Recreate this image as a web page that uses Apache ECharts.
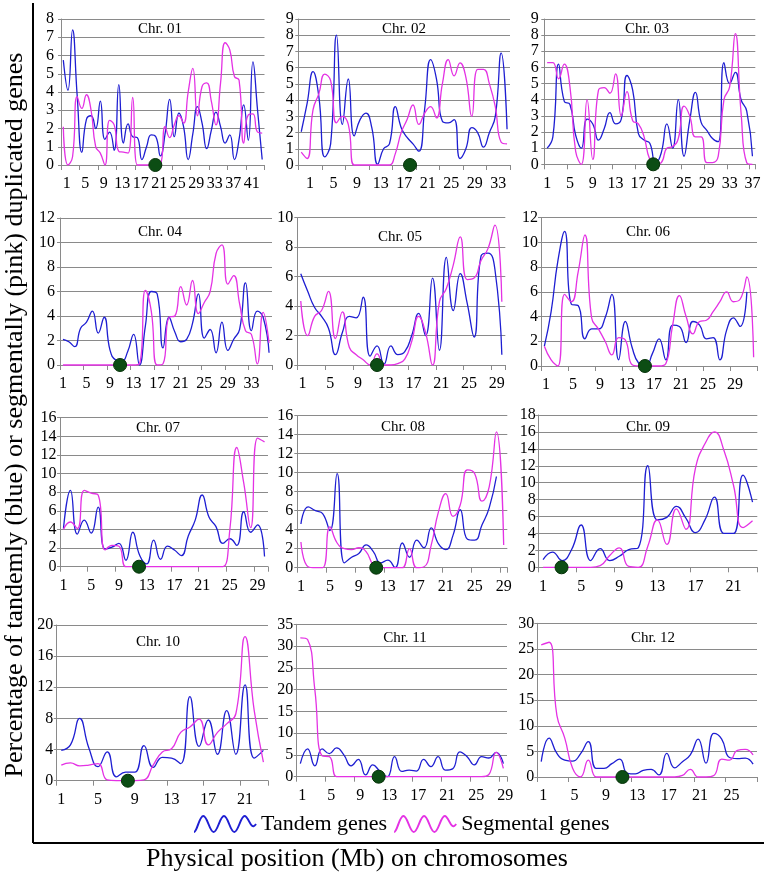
<!DOCTYPE html>
<html>
<head>
<meta charset="utf-8">
<script src="https://cdn.jsdelivr.net/npm/echarts@6.0.0/dist/echarts.min.js"></script>
<style>
html,body{margin:0;padding:0;background:#ffffff;}
#chart{width:768px;height:875px;}
</style>
</head>
<body>
<div id="chart"></div>
<script>
// ---------------- DATA ----------------
const chromosomes = ['Chr. 01','Chr. 02','Chr. 03','Chr. 04','Chr. 05','Chr. 06',
                     'Chr. 07','Chr. 08','Chr. 09','Chr. 10','Chr. 11','Chr. 12'];

const chr01Tandem = [5.75,4.1,7.4,3.8,0.7,2.5,2.7,2.0,3.5,1.4,1.8,0.8,4.4,1.2,2.25,1.55,1.5,0.3,1.0,1.65,1.55,0.5,1.7,3.6,1.55,2.85,2.1,0.3,1.7,3.2,2.3,0.9,1.9,2.9,2.1,1.2,1.65,0.3,1.4,3.3,1.35,5.65,3.0,0.3];
const chr01Segmental = [2.1,0,0.45,3.75,3.1,3.85,3.0,1.0,0.65,0,2.45,2.2,0.75,0.7,0.65,3.7,0,0,0,0,0,0.05,2.1,1.5,2.2,2.7,2.3,4.0,5.3,2.7,4.3,4.5,3.5,2.2,4.5,6.7,6.3,4.85,4.65,1.2,2.75,2.8,1.8,1.75];

const chr02Tandem = [2.05,3.8,5.75,4.2,0.5,1.3,8.0,2.5,5.3,1.8,2.8,3.2,2.3,0.05,1.0,1.3,3.6,2.3,1.7,1.3,0.85,3.5,6.5,5.3,2.7,2.6,2.8,0.4,1.0,2.3,2.0,1.1,2.0,3.0,6.9,2.2];
const chr02Segmental = [0.8,0.4,3.4,4.4,5.6,5.2,2.6,3.0,2.5,0,0,0,0,0,0,0,0.7,2.0,2.8,3.7,2.5,3.2,3.6,2.9,5.0,6.5,5.5,6.3,5.4,3.0,5.9,5.9,5.0,3.6,1.4,1.3];

const chr03Tandem = [1.0,1.7,6.2,3.9,3.7,1.8,1.0,2.8,2.5,1.5,2.2,3.2,2.5,2.8,5.5,4.6,1.9,1.5,1.3,0.05,0.7,2.5,1.0,4.0,0.5,2.7,4.45,2.6,2.1,1.6,1.4,6.3,5.0,5.7,4.0,3.3,0.5];
const chr03Segmental = [6.3,6.3,5.3,6.2,4.8,0.8,0,4.0,0.3,4.6,4.75,4.4,5.6,3.0,4.5,2.7,2.5,1.7,0.3,0,0.1,1.0,1.1,1.6,3.6,3.0,1.7,1.7,0.1,0.1,0.5,4.0,4.8,8.1,3.2,0.1,0];

const chr04Tandem = [2.1,1.9,1.5,3.0,3.5,4.4,2.6,3.9,1.2,0.4,0.3,1.1,2.5,0,3.2,6.0,5.8,1.4,3.9,2.7,1.9,2.1,3.4,5.8,2.2,2.9,1.0,3.5,1.2,2.1,2.9,6.7,2.8,4.4,3.9,1.0];
const chr04Segmental = [0,0,0,0,0,0,0,0,0,0,0,0,0,0.1,6.1,4.4,0,0.1,3.9,4.0,6.4,4.9,6.9,4.2,5.1,6.0,9.1,9.8,6.6,7.3,5.0,2.8,2.5,0.1,4.3,1.8];

const chr05Tandem = [6.2,5.0,3.9,3.3,2.5,0.7,2.2,3.3,3.2,4.6,0.6,1.3,0.05,1.3,0.7,0.9,2.0,3.5,2.0,5.9,1.0,7.3,3.7,6.2,4.2,1.9,7.4,7.6,6.5,0.7];
const chr05Segmental = [4.35,2.0,3.3,3.7,5.0,1.8,3.6,1.2,0.7,0.35,0,0.75,0,0,0.1,0.4,1.6,3.3,2.2,0,4.3,5.2,6.8,8.7,5.8,5.9,7.1,7.9,9.5,4.3];

const chr06Tandem = [1.6,4.4,8.5,10.9,5.0,4.9,2.2,3.0,3.0,3.9,5.8,0.5,3.6,1.5,0.2,0,1.0,2.2,0.5,3.3,3.2,1.9,3.6,3.3,2.2,2.3,0.5,2.9,3.9,3.2,6.0,null];
const chr06Segmental = [1.6,0.5,0,5.8,5.2,7.6,10.6,3.9,3.0,2.0,0.9,2.3,2.1,0.1,0,0,0,0,0.2,3.3,5.7,4.0,2.6,3.6,3.7,4.4,5.2,6.0,5.2,5.4,7.2,0.7];

const chr07Tandem = [4.1,8.2,3.5,5.0,3.6,6.4,1.9,2.1,2.5,0.7,3.7,1.2,0.3,2.85,0.8,2.2,1.8,1.2,3.3,5.0,7.7,5.3,4.3,2.5,3.0,2.3,5.9,3.7,4.5,1.1];
const chr07Segmental = [4.0,4.8,4.1,8.2,7.9,7.7,1.8,2.3,2.2,0,0,0,0,0,0,0,0,0,0,0,0,0,0,0,4.0,12.8,9.0,4.2,13.8,13.4];

const chr08Tandem = [4.6,6.4,6.0,5.7,3.9,9.9,0.5,1.1,1.5,2.4,1.7,0.5,0.8,0,2.6,1.1,2.9,2.1,4.2,2.5,1.9,3.4,6.1,3.0,2.9,4.5,6.3,9.6,null];
const chr08Segmental = [2.7,0.1,0,0,4.3,2.6,2.0,1.9,2.1,1.7,0.3,0,0,0,0,2.0,0,0.1,2.4,5.9,7.8,5.4,6.6,10.3,9.9,7.0,8.5,14.3,2.4];

const chr09Tandem = [0.9,1.8,0.8,2.1,5.0,0.8,2.2,0.8,1.3,2.1,2.3,12.0,5.6,5.9,7.2,5.8,4.1,5.6,8.3,4.0,4.0,10.9,7.7];
const chr09Segmental = [0,0,0,0,0,0,0.2,1.4,2.3,0.1,0,2.5,5.6,2.7,6.9,4.5,11.7,14.6,16.0,13.8,9.7,4.7,5.5];

const chr10Tandem = [3.9,4.6,8.0,4.2,1.8,3.7,0.5,1.1,1.1,4.5,1.7,3.0,2.9,2.2,10.8,4.4,7.8,3.4,9.0,3.4,12.3,2.9,3.9];
const chr10Segmental = [2.0,2.3,1.9,2.0,2.2,0.1,0,0,0,0.1,2.0,3.7,4.1,6.2,6.9,7.9,4.6,6.2,7.3,8.6,18.5,9.0,2.4];

const chr11Tandem = [3.0,6.4,2.5,6.4,5.3,6.6,5.0,2.5,4.0,0.4,2.7,1.2,0,4.6,1.2,1.5,1.3,4.0,2.3,4.6,1.5,1.8,5.7,4.6,2.7,4.6,4.3,5.6,3.0];
const chr11Segmental = [31.9,31.5,20.0,4.8,4.6,0,0,0,0,0,0,0,0,0,0,0,0,0,0,0,0,0,0,0,0,0,0.5,5.6,1.9];

const chr12Tandem = [3.0,7.6,4.6,3.3,3.1,4.5,6.9,1.7,1.7,2.6,3.5,0.7,0.6,1.3,1.5,0.4,4.6,1.8,3.0,4.3,7.4,2.7,8.5,7.4,3.8,3.6,3.7,2.5];
const chr12Segmental = [25.8,26.3,12.0,7.6,1.7,0,3.3,0,0,0,0,0,0,0,0,0,0,0,0.3,1.5,0,0,0.3,3.5,3.3,5.2,5.4,4.3];

// centromere positions (Mb, measured along the axis)
const centromeres = [20.4,19.0,19.1,10.2,11.5,15.4,11.4,10.9,2.44,7.75,11.3,10.85];
// y axis ranges and steps
const yMax  = [8,9,9,12,10,12,16,16,18,20,35,30];
const yStep = [1,1,1,2,2,2,2,2,2,4,5,5];
const xTickStep = 4;   // a tick label every 4 Mb: 1, 5, 9, ...

const tandem = [chr01Tandem,chr02Tandem,chr03Tandem,chr04Tandem,chr05Tandem,chr06Tandem,
                chr07Tandem,chr08Tandem,chr09Tandem,chr10Tandem,chr11Tandem,chr12Tandem];
const segmental = [chr01Segmental,chr02Segmental,chr03Segmental,chr04Segmental,chr05Segmental,chr06Segmental,
                   chr07Segmental,chr08Segmental,chr09Segmental,chr10Segmental,chr11Segmental,chr12Segmental];

// ---------------- LAYOUT / STYLE ----------------
const BLUE = '#1e1ed2';
const PINK = '#e432e4';
const GREEN = '#0c4d14';
const GRAY = '#8a8a8a';
const FONT = 'Liberation Serif';

// l,t,w,h = plot area; off = label offset (in bins); ym = y label margin; tx,ty = title centre
const layout = [
  {l:61,    t:19,    w:203.5, h:146,   off:1.25, ym:7,   tx:160, ty:29},
  {l:298.3, t:19,    w:211.7, h:146,   off:2,    ym:4.5, tx:404, ty:29},
  {l:544.3, t:19,    w:211,   h:145.3, off:0.5,  ym:5.5, tx:647, ty:29},
  {l:60,    t:218,   w:212,   h:147,   off:0.5,  ym:5,   tx:160, ty:232},
  {l:297.3, t:217.7, w:208,   h:147.3, off:0.75, ym:4,   tx:400, ty:237},
  {l:541,   t:217.7, w:216,   h:148.3, off:0.75, ym:3,   tx:648, ty:232},
  {l:60,    t:417.7, w:208,   h:149,   off:0.5,  ym:3.5, tx:158, ty:428},
  {l:297.3, t:415.7, w:210,   h:152,   off:0.5,  ym:4,   tx:403, ty:427},
  {l:538.3, t:415,   w:219,   h:152.3, off:0.5,  ym:2.5, tx:648, ty:427},
  {l:56.7,  t:625,   w:211.3, h:155.7, off:0.5,  ym:3.5, tx:158, ty:642},
  {l:296.7, t:624.3, w:210.3, h:152.4, off:0.75, ym:3.5, tx:405, ty:638},
  {l:537.3, t:623.3, w:219.7, h:153.7, off:0.75, ym:3,   tx:653, ty:638}
];

function labelFormatter(off) {
  return function (v) {
    const t = v - off;
    const q = t / xTickStep;
    if (t > -1e-6 && Math.abs(q - Math.round(q)) < 1e-6) return String(Math.round(t) + 1);
    return '';
  };
}

const grids = [], xAxes = [], yAxes = [], series = [];
const graphics = [];

chromosomes.forEach(function (name, i) {
  const L = layout[i];
  const n = segmental[i].length;
  grids.push({left:L.l, top:L.t, width:L.w, height:L.h, containLabel:false, outerBoundsMode:'none'});
  xAxes.push({
    type:'category', gridIndex:i, boundaryGap:true,
    data: segmental[i].map(function (_, k) { return String(k + 1); }),
    axisLine:{show:true, lineStyle:{color:GRAY, width:1}},
    axisTick:{show:true, interval:xTickStep - 1, length:5, lineStyle:{color:GRAY, width:1}},
    axisLabel:{show:false}, splitLine:{show:false}
  });
  xAxes.push({
    type:'value', gridIndex:i, position:'bottom', min:0, max:n, interval:0.25,
    axisLine:{show:false}, axisTick:{show:false}, splitLine:{show:false},
    axisLabel:{show:true, margin:11, color:'#000', fontFamily:FONT, fontSize:16,
               formatter: labelFormatter(L.off), showMinLabel:true, showMaxLabel:true, hideOverlap:false}
  });
  yAxes.push({
    type:'value', gridIndex:i, min:0, max:yMax[i], interval:yStep[i],
    axisLine:{show:true, lineStyle:{color:GRAY, width:1}},
    axisTick:{show:true, length:3, lineStyle:{color:GRAY}},
    splitLine:{show:true, lineStyle:{color:GRAY, width:1}},
    axisLabel:{color:'#000', fontFamily:FONT, fontSize:16, margin:L.ym}
  });
  series.push({
    type:'line', name:'Tandem genes', xAxisIndex:2*i, yAxisIndex:i, data:tandem[i],
    smooth:0.5, symbol:'none', clip:false, z:3,
    lineStyle:{color:BLUE, width:1.3}, itemStyle:{color:BLUE}
  });
  series.push({
    type:'line', name:'Segmental genes', xAxisIndex:2*i, yAxisIndex:i, data:segmental[i],
    smooth:0.5, symbol:'none', clip:false, z:4,
    lineStyle:{color:PINK, width:1.3}, itemStyle:{color:PINK}
  });
  series.push({
    type:'scatter', name:'Centromere', xAxisIndex:2*i+1, yAxisIndex:i,
    data:[[centromeres[i], 0]], symbol:'circle', symbolSize:13, clip:false, z:6, silent:true,
    itemStyle:{color:GREEN, borderColor:'#053208', borderWidth:1, opacity:1}
  });
  graphics.push({
    type:'text', x:L.tx, y:L.ty, z:10,
    style:{text:name, fill:'#000', fontFamily:FONT, fontSize:15, textAlign:'center', align:'center',
           textVerticalAlign:'middle', verticalAlign:'middle'}
  });
});

// frame lines and axis titles
graphics.push({type:'line', z:10, shape:{x1:33, y1:3, x2:33, y2:843}, style:{stroke:'#000', lineWidth:2}});
graphics.push({type:'line', z:10, shape:{x1:33, y1:843, x2:764, y2:843}, style:{stroke:'#000', lineWidth:2}});
graphics.push({
  type:'text', x:15, y:415, rotation:Math.PI/2, z:10,
  style:{text:'Percentage of tandemly (blue) or segmentally (pink) duplicated genes', fill:'#000',
         fontFamily:FONT, fontSize:26, textAlign:'center', align:'center', textVerticalAlign:'middle', verticalAlign:'middle'}
});
graphics.push({
  type:'text', x:357, y:859, z:10,
  style:{text:'Physical position (Mb) on chromosomes', fill:'#000',
         fontFamily:FONT, fontSize:26, textAlign:'center', align:'center', textVerticalAlign:'middle', verticalAlign:'middle'}
});

const WAVE = 'path://M0,13 C3,13 5,3 9,3 S15,13 19,13 S25,3 29,3 S35,13 39,13 S45,3 49,3 S55,13 60,8';

const option = {
  animation:false,
  backgroundColor:'#ffffff',
  grid:grids, xAxis:xAxes, yAxis:yAxes, series:series,
  legend:{
    left:188, top:808, orient:'horizontal', itemWidth:62, itemHeight:16, itemGap:6,
    symbolKeepAspect:false, selectedMode:false,
    textStyle:{fontFamily:FONT, fontSize:22, color:'#000'},
    data:[
      {name:'Tandem genes', icon:WAVE, itemStyle:{color:'rgba(0,0,0,0)', borderColor:BLUE, borderWidth:2}},
      {name:'Segmental genes', icon:WAVE, itemStyle:{color:'rgba(0,0,0,0)', borderColor:PINK, borderWidth:2}}
    ]
  },
  graphic:graphics
};

const chart = echarts.init(document.getElementById('chart'), null, {renderer:'canvas'});
chart.setOption(option);
</script>
</body>
</html>
